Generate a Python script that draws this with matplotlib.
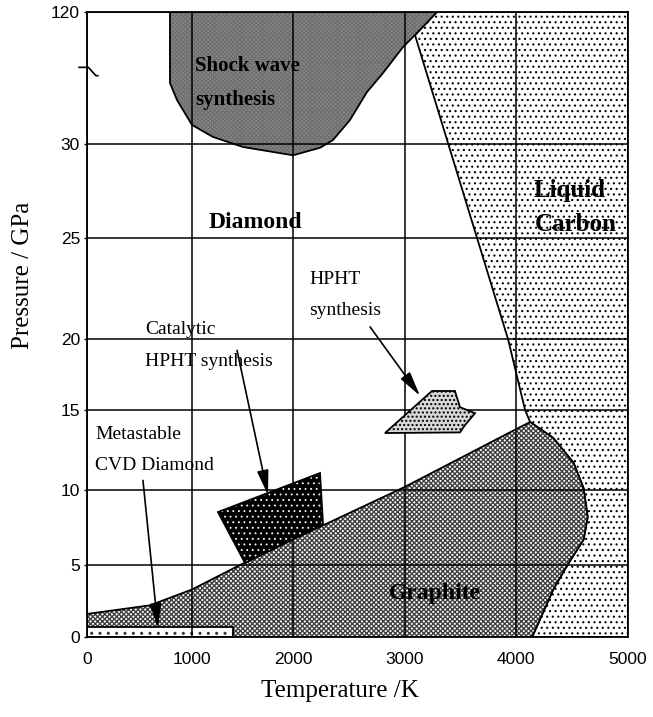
import numpy as np
import matplotlib
matplotlib.use("Agg")
import matplotlib.pyplot as plt
from matplotlib.path import Path

plt.rcParams['hatch.linewidth'] = 1.0
SERIF = 'Liberation Serif'
SANS = 'Liberation Sans'

# temperature (K) / pressure (GPa) axis ticks
t_ticks = [0, 1000, 2000, 3000, 4000, 5000]
p_ticks = [0, 5, 10, 15, 20, 25, 30, 120]

# phase regions, (T, P) outlines
liquid_T = [3288, 3090, 3390, 3649, 3928, 4081, 4126, 4333, 4514, 4604, 4640, 4604, 4459, 4333, 4144, 5000, 5000]
liquid_P = [120, 104.3, 30, 25, 20, 15, 14.25, 13.25, 11.7, 10.1, 8.2, 6.7, 5, 3.3, 0, 0, 120]

shock_T = [790, 790, 857, 1000, 1208, 1505, 2000, 2241, 2357, 2509, 2661, 2804, 2982, 3090, 3288]
shock_P = [120, 71.6, 60, 43, 34.8, 29.84, 29.4, 29.8, 32.7, 46.4, 65.5, 78.4, 96.1, 104.3, 120]

graphite_T = [0, 0, 600, 1000, 1475, 2000, 3000, 4000, 4126, 4333, 4514, 4604, 4640, 4604, 4459, 4333, 4144]
graphite_P = [0, 1.6, 2.2, 3.3, 5, 6.7, 10.2, 13.8, 14.25, 13.25, 11.7, 10.1, 8.2, 6.7, 5, 3.3, 0]

cvd_T = [0, 0, 1410, 1410]
cvd_P = [0, 0.69, 0.69, 0]

catalytic_T = [1257, 2241, 2268, 1525]
catalytic_P = [8.53, 11.06, 7.73, 5.13]

hpht_T = [2821, 3243, 3450, 3495, 3631, 3541, 3495]
hpht_P = [13.56, 16.34, 16.34, 15.2, 14.8, 14.06, 13.6]

# arrows: (start T, start P) -> (tip T, tip P)
arrows = [((533, 10.6), (676, 0.6)),
          ((1446, 19.2), (1752, 9.67)),
          ((2688, 20.6), (3135, 16.0))]

# piecewise axis positions of the tick marks (uneven spacing, broken P axis)
t_pos = [0, 105, 206, 318, 429, 541]
p_pos = [0, 72, 147, 227, 298, 399, 493, 625]


def fwd_t(v):
    return np.interp(v, t_ticks, t_pos)


def inv_t(v):
    return np.interp(v, t_pos, t_ticks)


def fwd_p(v):
    return np.interp(v, p_ticks, p_pos)


def inv_p(v):
    return np.interp(v, p_pos, p_ticks)


fig = plt.figure(figsize=(6.53, 7.17), dpi=100)
ax = fig.add_axes([87 / 653, 80 / 717, 541 / 653, 625 / 717])
ax.set_xscale('function', functions=(fwd_t, inv_t))
ax.set_yscale('function', functions=(fwd_p, inv_p))
ax.set_xlim(0, 5000)
ax.set_ylim(0, 120)


def region(T, P, face, hatch=None, hcolor='k', z=1, lw=1.3, hlw=1.0):
    ax.fill(T, P, facecolor=face, edgecolor='none', lw=0, zorder=z)
    if hatch:
        with plt.rc_context({'hatch.linewidth': hlw}):
            ax.fill(T, P, facecolor='none', edgecolor=hcolor, hatch=hatch, lw=0, zorder=z)
    ax.fill(T, P, facecolor='none', edgecolor='k', lw=lw, zorder=z)


region(liquid_T, liquid_P, 'white', '...', 'k', z=1, hlw=0.8)
region(shock_T, shock_P, '#8e8e8e', 'xxxxxxxx', '#707070', z=1.1)
region(graphite_T, graphite_P, 'white', 'xxxxxxx', '#404040', z=1.2)
region(cvd_T, cvd_P, 'white', '..', '#333333', z=1.3)

ax.grid(True, color='k', lw=1.1, zorder=2)
ax.set_axisbelow(False)
for g in ax.get_xgridlines() + ax.get_ygridlines():
    g.set_zorder(2)

region(catalytic_T, catalytic_P, 'black', '...', 'white', z=3, hlw=0.6)
region(hpht_T, hpht_P, '#d8d8d8', '....', 'k', z=3)

for (t0, p0), (t1, p1) in arrows:
    ax.annotate('', xy=(t1, p1), xytext=(t0, p0),
                arrowprops=dict(arrowstyle='-|>,head_length=1.5,head_width=0.35',
                                mutation_scale=10, color='k', lw=1.2,
                                shrinkA=0, shrinkB=0), zorder=4)

ax.set_xticks(t_ticks)
ax.set_yticks(p_ticks)
ax.set_xticklabels([str(t) for t in t_ticks])
ax.set_yticklabels([str(p) for p in p_ticks])
ax.tick_params(axis='x', length=0, pad=11, labelsize=12.5)
ax.tick_params(axis='y', length=2, width=1, pad=3, labelsize=12.5)
for lab in ax.get_xticklabels() + ax.get_yticklabels():
    lab.set_family(SANS)
for s in ax.spines.values():
    s.set_linewidth(1.3)
    s.set_zorder(5)

# axis break mark on the pressure axis
zig = Path([(-1.0, 0.45), (0.1, 0.45), (0.9, -0.45), (1.2, -0.45)])
ax.plot([0], [80], marker=zig, markersize=16, markerfacecolor='none',
        markeredgecolor='k', markeredgewidth=1.2, clip_on=False, zorder=6)

ax.text(1624, 25.85, 'Diamond', family=SERIF, weight='bold', size=17, ha='center', va='center', zorder=5)
ax.text(4482, 27.55, 'Liquid', family=SERIF, weight='bold', size=18, ha='center', va='center', zorder=5)
ax.text(4536, 25.7, 'Carbon', family=SERIF, weight='bold', size=18, ha='center', va='center', zorder=5)
ax.text(3270, 3.0, 'Graphite', family=SERIF, weight='bold', size=17, ha='center', va='center', zorder=5)
ax.text(1030, 83, 'Shock wave', family=SERIF, weight='bold', size=15, ha='left', va='center', zorder=5)
ax.text(1030, 60, 'synthesis', family=SERIF, weight='bold', size=15, ha='left', va='center', zorder=5)
ax.text(552, 20.45, 'Catalytic', family=SERIF, size=14, ha='left', va='center', zorder=5)
ax.text(552, 18.4, 'HPHT synthesis', family=SERIF, size=14, ha='left', va='center', zorder=5)
ax.text(76, 13.44, 'Metastable', family=SERIF, size=14, ha='left', va='center', zorder=5)
ax.text(76, 11.5, 'CVD Diamond', family=SERIF, size=14, ha='left', va='center', zorder=5)
ax.text(2143, 22.97, 'HPHT', family=SERIF, size=14, ha='left', va='center', zorder=5)
ax.text(2143, 21.39, 'synthesis', family=SERIF, size=14, ha='left', va='center', zorder=5)

ax.set_xlabel('Temperature /K', family=SERIF, size=18)
ax.xaxis.set_label_coords(0.468, -0.068)
ax.set_ylabel('Pressure / GPa', family=SERIF, size=18)
ax.yaxis.set_label_coords(-0.098, 0.579)

fig.savefig('out.png', dpi=100)
